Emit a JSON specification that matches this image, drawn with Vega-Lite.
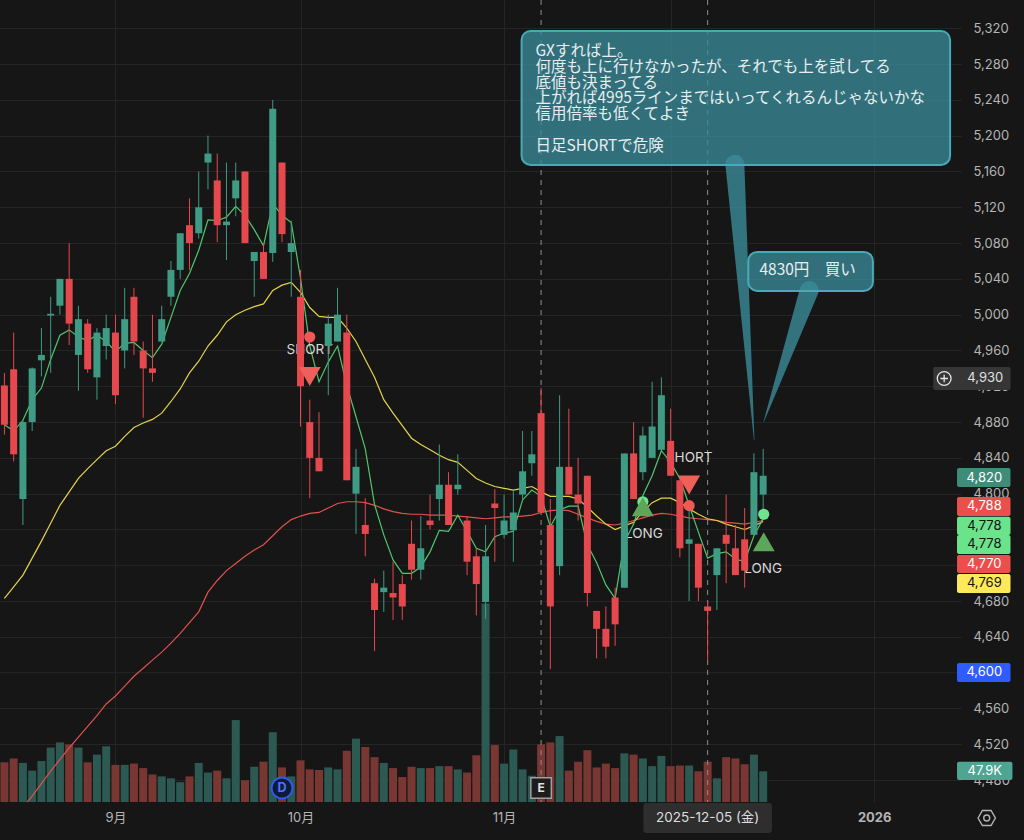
{
  "$schema": "https://vega.github.io/schema/vega-lite/v6.json",
  "width": 961,
  "height": 802,
  "autosize": {"type": "none"},
  "padding": {"left": 0, "top": 0, "right": 63, "bottom": 38},
  "background": "#161616",
  "config": {"view": {"stroke": null}},
  "datasets": {
    "k": [
      {"i":0,"o":4921,"h":4935,"l":4866,"c":4877,"v":62,"m5":4877,"m25":4683,"m75":4424},
      {"i":1,"o":4939,"h":4980,"l":4836,"c":4844,"v":68,"m5":4870,"m25":4696,"m75":4437},
      {"i":2,"o":4794,"h":4882,"l":4765,"c":4880,"v":61,"m5":4882,"m25":4709,"m75":4450},
      {"i":3,"o":4880,"h":4941,"l":4870,"c":4940,"v":49,"m5":4905,"m25":4728,"m75":4462},
      {"i":4,"o":4949,"h":4985,"l":4931,"c":4955,"v":64,"m5":4918,"m25":4747,"m75":4476},
      {"i":5,"o":4999,"h":5020,"l":4935,"c":5001,"v":85,"m5":4950,"m25":4767,"m75":4490},
      {"i":6,"o":5010,"h":5040,"l":5000,"c":5040,"v":93,"m5":4977,"m25":4787,"m75":4503},
      {"i":7,"o":5040,"h":5080,"l":4966,"c":4990,"v":90,"m5":4983,"m25":4802,"m75":4516},
      {"i":8,"o":4955,"h":5010,"l":4915,"c":4995,"v":85,"m5":4975,"m25":4817,"m75":4528},
      {"i":9,"o":4990,"h":4995,"l":4935,"c":4939,"v":62,"m5":4971,"m25":4828,"m75":4540},
      {"i":10,"o":4930,"h":4985,"l":4905,"c":4980,"v":74,"m5":4977,"m25":4838,"m75":4552},
      {"i":11,"o":4965,"h":5000,"l":4950,"c":4985,"v":87,"m5":4970,"m25":4848,"m75":4565},
      {"i":12,"o":4980,"h":5000,"l":4900,"c":4910,"v":58,"m5":4959,"m25":4853,"m75":4574},
      {"i":13,"o":4960,"h":5030,"l":4940,"c":4995,"v":58,"m5":4968,"m25":4864,"m75":4585},
      {"i":14,"o":5020,"h":5030,"l":4955,"c":4970,"v":60,"m5":4969,"m25":4874,"m75":4596},
      {"i":15,"o":4960,"h":4970,"l":4885,"c":4940,"v":53,"m5":4960,"m25":4879,"m75":4605},
      {"i":16,"o":4940,"h":5000,"l":4925,"c":4935,"v":43,"m5":4952,"m25":4883,"m75":4614},
      {"i":17,"o":4970,"h":5010,"l":4970,"c":4995,"v":40,"m5":4967,"m25":4890,"m75":4623},
      {"i":18,"o":5020,"h":5060,"l":5010,"c":5050,"v":37,"m5":4997,"m25":4903,"m75":4633},
      {"i":19,"o":5050,"h":5091,"l":5040,"c":5091,"v":31,"m5":5027,"m25":4917,"m75":4644},
      {"i":20,"o":5100,"h":5130,"l":5050,"c":5080,"v":40,"m5":5046,"m25":4935,"m75":4656},
      {"i":21,"o":5091,"h":5160,"l":5085,"c":5120,"v":61,"m5":5072,"m25":4948,"m75":4668},
      {"i":22,"o":5170,"h":5200,"l":5140,"c":5180,"v":46,"m5":5106,"m25":4965,"m75":4690},
      {"i":23,"o":5150,"h":5180,"l":5081,"c":5100,"v":49,"m5":5105,"m25":4977,"m75":4703},
      {"i":24,"o":5100,"h":5170,"l":5061,"c":5104,"v":37,"m5":5109,"m25":4992,"m75":4714},
      {"i":25,"o":5130,"h":5170,"l":5110,"c":5150,"v":128,"m5":5121,"m25":5000,"m75":4722},
      {"i":26,"o":5160,"h":5160,"l":5080,"c":5080,"v":34,"m5":5111,"m25":5005,"m75":4730},
      {"i":27,"o":5060,"h":5070,"l":5020,"c":5070,"v":55,"m5":5095,"m25":5009,"m75":4737},
      {"i":28,"o":5070,"h":5080,"l":5040,"c":5040,"v":63,"m5":5077,"m25":5012,"m75":4743},
      {"i":29,"o":5069,"h":5240,"l":5059,"c":5230,"v":109,"m5":5124,"m25":5027,"m75":4753},
      {"i":30,"o":5170,"h":5170,"l":5081,"c":5090,"v":54,"m5":5111,"m25":5033,"m75":4763},
      {"i":31,"o":5070,"h":5105,"l":5020,"c":5080,"v":40,"m5":5103,"m25":5036,"m75":4771},
      {"i":32,"o":5020,"h":5050,"l":4875,"c":4920,"v":65,"m5":5041,"m25":5025,"m75":4775},
      {"i":33,"o":4880,"h":4905,"l":4795,"c":4840,"v":51,"m5":4965,"m25":5008,"m75":4778},
      {"i":34,"o":4840,"h":4891,"l":4825,"c":4825,"v":50,"m5":4925,"m25":4998,"m75":4779},
      {"i":35,"o":4965,"h":5000,"l":4910,"c":4990,"v":54,"m5":4947,"m25":4997,"m75":4784},
      {"i":36,"o":4970,"h":5030,"l":4970,"c":5000,"v":51,"m5":4965,"m25":4997,"m75":4789},
      {"i":37,"o":4980,"h":5000,"l":4815,"c":4815,"v":80,"m5":4921,"m25":4985,"m75":4791},
      {"i":38,"o":4800,"h":4850,"l":4755,"c":4830,"v":99,"m5":4886,"m25":4970,"m75":4791},
      {"i":39,"o":4765,"h":4795,"l":4730,"c":4755,"v":86,"m5":4850,"m25":4950,"m75":4790},
      {"i":40,"o":4700,"h":4705,"l":4624,"c":4670,"v":70,"m5":4788,"m25":4930,"m75":4787},
      {"i":41,"o":4690,"h":4714,"l":4668,"c":4695,"v":61,"m5":4754,"m25":4905,"m75":4783},
      {"i":42,"o":4689,"h":4724,"l":4659,"c":4684,"v":53,"m5":4726,"m25":4890,"m75":4780},
      {"i":43,"o":4699,"h":4709,"l":4659,"c":4674,"v":39,"m5":4711,"m25":4876,"m75":4778},
      {"i":44,"o":4744,"h":4770,"l":4704,"c":4715,"v":55,"m5":4711,"m25":4862,"m75":4777},
      {"i":45,"o":4715,"h":4775,"l":4704,"c":4739,"v":53,"m5":4718,"m25":4855,"m75":4777},
      {"i":46,"o":4770,"h":4799,"l":4760,"c":4765,"v":53,"m5":4735,"m25":4849,"m75":4776},
      {"i":47,"o":4794,"h":4855,"l":4770,"c":4810,"v":56,"m5":4759,"m25":4843,"m75":4776},
      {"i":48,"o":4810,"h":4824,"l":4765,"c":4765,"v":56,"m5":4758,"m25":4838,"m75":4776},
      {"i":49,"o":4805,"h":4844,"l":4799,"c":4810,"v":51,"m5":4776,"m25":4835,"m75":4775},
      {"i":50,"o":4770,"h":4775,"l":4709,"c":4724,"v":46,"m5":4758,"m25":4826,"m75":4774},
      {"i":51,"o":4730,"h":4739,"l":4664,"c":4699,"v":73,"m5":4739,"m25":4817,"m75":4773},
      {"i":52,"o":4679,"h":4765,"l":4660,"c":4730,"v":310,"m5":4735,"m25":4812,"m75":4772},
      {"i":53,"o":4789,"h":4805,"l":4724,"c":4784,"v":89,"m5":4752,"m25":4808,"m75":4773},
      {"i":54,"o":4754,"h":4799,"l":4750,"c":4770,"v":60,"m5":4756,"m25":4806,"m75":4774},
      {"i":55,"o":4759,"h":4805,"l":4724,"c":4779,"v":82,"m5":4758,"m25":4804,"m75":4774},
      {"i":56,"o":4799,"h":4870,"l":4794,"c":4825,"v":51,"m5":4793,"m25":4806,"m75":4775},
      {"i":57,"o":4834,"h":4870,"l":4820,"c":4844,"v":41,"m5":4804,"m25":4808,"m75":4776},
      {"i":58,"o":4890,"h":4918,"l":4779,"c":4779,"v":90,"m5":4797,"m25":4802,"m75":4779},
      {"i":59,"o":4765,"h":4794,"l":4604,"c":4674,"v":93,"m5":4763,"m25":4797,"m75":4781},
      {"i":60,"o":4719,"h":4910,"l":4709,"c":4830,"v":103,"m5":4782,"m25":4797,"m75":4782},
      {"i":61,"o":4830,"h":4895,"l":4799,"c":4799,"v":49,"m5":4786,"m25":4797,"m75":4781},
      {"i":62,"o":4799,"h":4840,"l":4770,"c":4789,"v":63,"m5":4786,"m25":4794,"m75":4777},
      {"i":63,"o":4820,"h":4820,"l":4674,"c":4689,"v":81,"m5":4743,"m25":4785,"m75":4773},
      {"i":64,"o":4669,"h":4669,"l":4616,"c":4649,"v":54,"m5":4723,"m25":4775,"m75":4769},
      {"i":65,"o":4649,"h":4674,"l":4616,"c":4629,"v":60,"m5":4698,"m25":4766,"m75":4766},
      {"i":66,"o":4684,"h":4695,"l":4630,"c":4654,"v":53,"m5":4683,"m25":4760,"m75":4765},
      {"i":67,"o":4695,"h":4845,"l":4695,"c":4845,"v":76,"m5":4746,"m25":4764,"m75":4767},
      {"i":68,"o":4845,"h":4880,"l":4794,"c":4794,"v":74,"m5":4766,"m25":4768,"m75":4770},
      {"i":69,"o":4824,"h":4875,"l":4815,"c":4865,"v":68,"m5":4798,"m25":4780,"m75":4773},
      {"i":70,"o":4840,"h":4925,"l":4840,"c":4875,"v":56,"m5":4820,"m25":4790,"m75":4776},
      {"i":71,"o":4849,"h":4930,"l":4849,"c":4910,"v":72,"m5":4848,"m25":4795,"m75":4778},
      {"i":72,"o":4859,"h":4895,"l":4820,"c":4820,"v":56,"m5":4835,"m25":4795,"m75":4777},
      {"i":73,"o":4815,"h":4815,"l":4729,"c":4739,"v":57,"m5":4817,"m25":4790,"m75":4775},
      {"i":74,"o":4744,"h":4783,"l":4680,"c":4749,"v":57,"m5":4787,"m25":4783,"m75":4773},
      {"i":75,"o":4744,"h":4744,"l":4680,"c":4695,"v":48,"m5":4757,"m25":4777,"m75":4772},
      {"i":76,"o":4674,"h":4680,"l":4612,"c":4669,"v":63,"m5":4728,"m25":4772,"m75":4771},
      {"i":77,"o":4709,"h":4739,"l":4670,"c":4739,"v":37,"m5":4733,"m25":4770,"m75":4770},
      {"i":78,"o":4754,"h":4799,"l":4700,"c":4744,"v":70,"m5":4735,"m25":4766,"m75":4768},
      {"i":79,"o":4739,"h":4765,"l":4709,"c":4709,"v":68,"m5":4727,"m25":4763,"m75":4767},
      {"i":80,"o":4749,"h":4784,"l":4695,"c":4714,"v":59,"m5":4724,"m25":4760,"m75":4766},
      {"i":81,"o":4754,"h":4845,"l":4754,"c":4824,"v":74,"m5":4753,"m25":4764,"m75":4768},
      {"i":82,"o":4799,"h":4850,"l":4778,"c":4820,"v":47.9,"m5":4772,"m25":4769,"m75":4770}
    ],
    "sig": [
      {"i":33,"p":4975,"kind":"sdot"},
      {"i":33,"p":4931,"kind":"stri"},
      {"i":74,"p":4786.6,"kind":"sdot"},
      {"i":74,"p":4809.7,"kind":"stri"},
      {"i":69,"p":4791,"kind":"ldot"},
      {"i":69,"p":4785.5,"kind":"ltri"},
      {"i":82.06,"p":4777,"kind":"ldot"},
      {"i":82.06,"p":4746.4,"kind":"ltri"}
    ],
    "sigtxt": [
      {"i":33,"p":4960,"text":"SHORT"},
      {"i":74,"p":4840,"text":"SHORT"},
      {"i":69.1,"p":4755,"text":"LONG"},
      {"i":82,"p":4715.5,"text":"LONG"}
    ],
    "tags": [
      {"i":100.38,"i2":108.73,"p":4941.6,"p2":4915.9,"tx":106.0,"tp":4928.7,"label":"4,930","kind":"cross"},
      {"i":102.95,"i2":108.73,"p":4828.7,"p2":4807.5,"tx":105.9,"tp":4818,"label":"4,820","kind":"cur"},
      {"i":102.95,"i2":108.73,"p":4796.3,"p2":4775.1,"tx":105.9,"tp":4785.7,"label":"4,788","kind":"red"},
      {"i":102.95,"i2":108.73,"p":4774.3,"p2":4753.9,"tx":105.9,"tp":4764.1,"label":"4,778","kind":"green"},
      {"i":102.95,"i2":108.73,"p":4753.9,"p2":4732.7,"tx":105.9,"tp":4743.3,"label":"4,778","kind":"green"},
      {"i":102.95,"i2":108.73,"p":4731.5,"p2":4711.4,"tx":105.9,"tp":4721.5,"label":"4,770","kind":"red"},
      {"i":102.95,"i2":108.73,"p":4710.3,"p2":4689.1,"tx":105.9,"tp":4699.7,"label":"4,769","kind":"yellow"},
      {"i":102.95,"i2":108.73,"p":4610.8,"p2":4589.6,"tx":105.9,"tp":4600.2,"label":"4,600","kind":"blue"},
      {"i":102.95,"i2":108.94,"p":4500.6,"p2":4480.1,"tx":105.95,"tp":4490.3,"label":"47.9K","kind":"vol"}
    ],
    "boxes": [
      {"i":55.89,"i2":102.2,"p":5317,"p2":5167.3},
      {"i":80.39,"i2":93.86,"p":5070.1,"p2":5026.5}
    ],
    "tails": [
      {"tail":"a","i":78.94,"p":5168,"w":1},
      {"tail":"a","i":81.03,"p":4860,"w":0},
      {"tail":"b","i":86.97,"p":5027,"w":1},
      {"tail":"b","i":82.06,"p":4880.4,"w":0}
    ],
    "notes": [
      {"i":57.39,"p":5302.5,"t":"GXすれば上。\n何度も上に行けなかったが、それでも上を試してる\n底値も決まってる\n上がれば4995ラインまではいってくれるんじゃないかな\n信用倍率も低くてよき"},
      {"i":57.39,"p":5196.5,"t":"日足SHORTで危険"}
    ]
  },
  "resolve": {"scale": {"y": "independent", "color": "independent", "fill": "independent", "shape": "independent", "size": "independent"}, "axis": {"x": "independent"}},
  "layer": [
    {
      "data": {"name": "k"},
      "mark": {"type": "point", "opacity": 0},
      "encoding": {
        "x": {"field": "i", "type": "quantitative", "scale": {"domain": [0.064, 102.84], "nice": false, "zero": false},
          "axis": {"orient": "bottom", "values": [12, 32, 54, 72, 94],
            "labelExpr": "datum.value==12?'9月':datum.value==32?'10月':datum.value==54?'11月':datum.value==94?'2026':''",
            "grid": true, "gridColor": "#252525", "ticks": false, "domain": false, "labelColor": "#b4b4b4",
            "labelFontSize": 13, "labelFont": "Inter, Noto Sans CJK JP", "labelPadding": 9,
            "labelFontWeight": {"condition": {"test": "datum.value==94", "value": "bold"}, "value": "normal"},
            "title": null, "labelOverlap": false, "labelFlush": false}},
        "y": {"field": "c", "type": "quantitative", "scale": {"domain": [4455.5, 5351.6], "nice": false, "zero": false},
          "axis": {"orient": "right", "values": [4480,4520,4560,4640,4680,4800,4840,4880,4920,4960,5000,5040,5080,5120,5160,5200,5240,5280,5320],
            "format": ",d", "grid": true, "gridColor": "#252525", "ticks": false, "domain": false, "labelColor": "#b4b4b4",
            "labelFontSize": 13, "labelFont": "Inter", "labelPadding": 12, "labelAlign": "left", "title": null, "labelOverlap": false}}
      }
    },
    {
      "data": {"values": [{"p": 4600}, {"p": 4720}, {"p": 4760}]},
      "mark": {"type": "rule", "color": "#252525", "strokeWidth": 1},
      "encoding": {"y": {"field": "p", "type": "quantitative", "scale": {"domain": [4455.5, 5351.6], "nice": false, "zero": false}, "axis": null}}
    },
    {
      "data": {"name": "k"},
      "mark": {"type": "bar", "size": 8, "orient": "vertical"},
      "encoding": {
        "x": {"field": "i", "type": "quantitative", "scale": {"domain": [0.064, 102.84], "nice": false, "zero": false}, "axis": null},
        "y": {"field": "v", "type": "quantitative", "scale": {"domain": [0, 1253], "nice": false}, "axis": null},
        "color": {"condition": {"test": "datum.c >= datum.o", "value": "#2c5a53"}, "value": "#793733"}
      }
    },
    {
      "mark": {"type": "rule", "color": "#2962ff", "strokeWidth": 2},
      "encoding": {"y": {"datum": 4600, "type": "quantitative", "scale": {"domain": [4455.5, 5351.6], "nice": false, "zero": false}, "axis": null}}
    },
    {
      "mark": {"type": "rule", "color": "#8e8e8e", "strokeWidth": 1, "strokeDash": [5, 4]},
      "encoding": {"y": {"datum": 4930, "type": "quantitative", "scale": {"domain": [4455.5, 5351.6], "nice": false, "zero": false}, "axis": null}}
    },
    {
      "mark": {"type": "rule", "color": "#3f9a82", "strokeWidth": 1, "strokeDash": [1, 3]},
      "encoding": {"y": {"datum": 4820, "type": "quantitative", "scale": {"domain": [4455.5, 5351.6], "nice": false, "zero": false}, "axis": null}}
    },
    {
      "data": {"values": [{"i": 58}, {"i": 76}]},
      "mark": {"type": "rule", "color": "#8e8e8e", "strokeWidth": 1, "strokeDash": [5, 5]},
      "encoding": {"x": {"field": "i", "type": "quantitative", "scale": {"domain": [0.064, 102.84], "nice": false, "zero": false}, "axis": null}}
    },
    {
      "data": {"name": "k"},
      "mark": {"type": "line", "color": "#e0524c", "strokeWidth": 1.2, "clip": true},
      "encoding": {
        "x": {"field": "i", "type": "quantitative", "scale": {"domain": [0.064, 102.84], "nice": false, "zero": false}, "axis": null},
        "y": {"field": "m75", "type": "quantitative", "scale": {"domain": [4455.5, 5351.6], "nice": false, "zero": false}, "axis": null}
      }
    },
    {
      "data": {"name": "k"},
      "mark": {"type": "line", "color": "#e3d34a", "strokeWidth": 1.2, "clip": true},
      "encoding": {
        "x": {"field": "i", "type": "quantitative", "scale": {"domain": [0.064, 102.84], "nice": false, "zero": false}, "axis": null},
        "y": {"field": "m25", "type": "quantitative", "scale": {"domain": [4455.5, 5351.6], "nice": false, "zero": false}, "axis": null}
      }
    },
    {
      "data": {"name": "k"},
      "mark": {"type": "line", "color": "#52c66c", "strokeWidth": 1.2, "clip": true},
      "encoding": {
        "x": {"field": "i", "type": "quantitative", "scale": {"domain": [0.064, 102.84], "nice": false, "zero": false}, "axis": null},
        "y": {"field": "m5", "type": "quantitative", "scale": {"domain": [4455.5, 5351.6], "nice": false, "zero": false}, "axis": null}
      }
    },
    {
      "data": {"name": "sigtxt"},
      "mark": {"type": "text", "color": "#d8d8d8", "fontSize": 13.5, "font": "Inter", "align": "center", "baseline": "middle"},
      "encoding": {
        "x": {"field": "i", "type": "quantitative", "scale": {"domain": [0.064, 102.84], "nice": false, "zero": false}, "axis": null},
        "y": {"field": "p", "type": "quantitative", "scale": {"domain": [4455.5, 5351.6], "nice": false, "zero": false}, "axis": null},
        "text": {"field": "text"}
      }
    },
    {
      "data": {"name": "k"},
      "mark": {"type": "rule", "strokeWidth": 1, "clip": true},
      "encoding": {
        "x": {"field": "i", "type": "quantitative", "scale": {"domain": [0.064, 102.84], "nice": false, "zero": false}, "axis": null},
        "y": {"field": "l", "type": "quantitative", "scale": {"domain": [4455.5, 5351.6], "nice": false, "zero": false}, "axis": null},
        "y2": {"field": "h"},
        "color": {"condition": {"test": "datum.c >= datum.o", "value": "#3f9b84"}, "value": "#e5484d"}
      }
    },
    {
      "data": {"name": "k"},
      "mark": {"type": "bar", "size": 7, "orient": "vertical", "clip": true},
      "encoding": {
        "x": {"field": "i", "type": "quantitative", "scale": {"domain": [0.064, 102.84], "nice": false, "zero": false}, "axis": null},
        "y": {"field": "o", "type": "quantitative", "scale": {"domain": [4455.5, 5351.6], "nice": false, "zero": false}, "axis": null},
        "y2": {"field": "c"},
        "color": {"condition": {"test": "datum.c >= datum.o", "value": "#3f9b84"}, "value": "#e5484d"}
      }
    },
    {
      "data": {"name": "sig"},
      "mark": {"type": "point", "filled": true, "opacity": 1, "strokeWidth": 0},
      "encoding": {
        "x": {"field": "i", "type": "quantitative", "scale": {"domain": [0.064, 102.84], "nice": false, "zero": false}, "axis": null},
        "y": {"field": "p", "type": "quantitative", "scale": {"domain": [4455.5, 5351.6], "nice": false, "zero": false}, "axis": null},
        "shape": {"field": "kind", "type": "nominal", "scale": {"domain": ["sdot", "stri", "ldot", "ltri"], "range": ["circle", "triangle-down", "circle", "triangle-up"]}, "legend": null},
        "color": {"field": "kind", "type": "nominal", "scale": {"domain": ["sdot", "stri", "ldot", "ltri"], "range": ["#f05a55", "#f0605a", "#6fe38d", "#5ea65a"]}, "legend": null},
        "size": {"field": "kind", "type": "nominal", "scale": {"type": "ordinal", "domain": ["sdot", "stri", "ldot", "ltri"], "range": [125, 480, 125, 480]}, "legend": null}
      }
    },
    {
      "data": {"values": [{"i": 30, "p": 4471.2}]},
      "mark": {"type": "point", "shape": "circle", "size": 440, "fill": "#0f1a38", "stroke": "#2f5bea", "strokeWidth": 2, "opacity": 1, "fillOpacity": 1},
      "encoding": {
        "x": {"field": "i", "type": "quantitative", "scale": {"domain": [0.064, 102.84], "nice": false, "zero": false}, "axis": null},
        "y": {"field": "p", "type": "quantitative", "scale": {"domain": [4455.5, 5351.6], "nice": false, "zero": false}, "axis": null}
      }
    },
    {
      "data": {"values": [{"i": 30, "p": 4471.2, "t": "D"}]},
      "mark": {"type": "text", "color": "#4a76ff", "fontSize": 12.5, "fontWeight": "bold", "font": "Inter", "align": "center", "baseline": "middle"},
      "encoding": {
        "x": {"field": "i", "type": "quantitative", "scale": {"domain": [0.064, 102.84], "nice": false, "zero": false}, "axis": null},
        "y": {"field": "p", "type": "quantitative", "scale": {"domain": [4455.5, 5351.6], "nice": false, "zero": false}, "axis": null},
        "text": {"field": "t"}
      }
    },
    {
      "data": {"values": [{"i": 58, "p": 4471.2}]},
      "mark": {"type": "point", "shape": "square", "size": 420, "fill": "#1c1c1c", "stroke": "#a0a0a0", "strokeWidth": 1.5, "opacity": 1, "fillOpacity": 1},
      "encoding": {
        "x": {"field": "i", "type": "quantitative", "scale": {"domain": [0.064, 102.84], "nice": false, "zero": false}, "axis": null},
        "y": {"field": "p", "type": "quantitative", "scale": {"domain": [4455.5, 5351.6], "nice": false, "zero": false}, "axis": null}
      }
    },
    {
      "data": {"values": [{"i": 58, "p": 4471.2, "t": "E"}]},
      "mark": {"type": "text", "color": "#e0e0e0", "fontSize": 12, "fontWeight": "bold", "font": "Inter", "align": "center", "baseline": "middle"},
      "encoding": {
        "x": {"field": "i", "type": "quantitative", "scale": {"domain": [0.064, 102.84], "nice": false, "zero": false}, "axis": null},
        "y": {"field": "p", "type": "quantitative", "scale": {"domain": [4455.5, 5351.6], "nice": false, "zero": false}, "axis": null},
        "text": {"field": "t"}
      }
    },
    {
      "data": {"name": "tags"},
      "mark": {"type": "rect", "cornerRadius": 2},
      "encoding": {
        "x": {"field": "i", "type": "quantitative", "scale": {"domain": [0.064, 102.84], "nice": false, "zero": false}, "axis": null},
        "x2": {"field": "i2"},
        "y": {"field": "p", "type": "quantitative", "scale": {"domain": [4455.5, 5351.6], "nice": false, "zero": false}, "axis": null},
        "y2": {"field": "p2"},
        "fill": {"field": "kind", "type": "nominal", "scale": {"domain": ["cross", "cur", "red", "green", "yellow", "blue", "vol"], "range": ["#363636", "#3f8c79", "#ea4f4b", "#6be38b", "#fde95a", "#2e5cff", "#4da592"]}, "legend": null}
      }
    },
    {
      "data": {"name": "tags"},
      "mark": {"type": "text", "fontSize": 13, "font": "Inter", "align": "center", "baseline": "middle"},
      "encoding": {
        "x": {"field": "tx", "type": "quantitative", "scale": {"domain": [0.064, 102.84], "nice": false, "zero": false}, "axis": null},
        "y": {"field": "tp", "type": "quantitative", "scale": {"domain": [4455.5, 5351.6], "nice": false, "zero": false}, "axis": null},
        "text": {"field": "label"},
        "color": {"field": "kind", "type": "nominal", "scale": {"domain": ["cross", "cur", "red", "green", "yellow", "blue", "vol"], "range": ["#e0e0e0", "#ffffff", "#ffffff", "#111111", "#111111", "#ffffff", "#ffffff"]}, "legend": null}
      }
    },
    {
      "data": {"values": [{"i": 101.56, "p": 4928.7}]},
      "mark": {"type": "point", "shape": "circle", "size": 190, "filled": false, "stroke": "#e6e6e6", "strokeWidth": 1.3, "opacity": 1},
      "encoding": {
        "x": {"field": "i", "type": "quantitative", "scale": {"domain": [0.064, 102.84], "nice": false, "zero": false}, "axis": null},
        "y": {"field": "p", "type": "quantitative", "scale": {"domain": [4455.5, 5351.6], "nice": false, "zero": false}, "axis": null}
      }
    },
    {
      "data": {"values": [{"i": 101.56, "p": 4928.7}]},
      "mark": {"type": "point", "shape": "M-0.55,0L0.55,0M0,-0.55L0,0.55", "size": 190, "filled": false, "stroke": "#e6e6e6", "strokeWidth": 1.3, "opacity": 1},
      "encoding": {
        "x": {"field": "i", "type": "quantitative", "scale": {"domain": [0.064, 102.84], "nice": false, "zero": false}, "axis": null},
        "y": {"field": "p", "type": "quantitative", "scale": {"domain": [4455.5, 5351.6], "nice": false, "zero": false}, "axis": null}
      }
    },
    {
      "data": {"values": [{"i": 69.05, "i2": 82.95, "p": 4454.4, "p2": 4420.9}]},
      "mark": {"type": "rect", "fill": "#2e2e2e", "cornerRadius": 3},
      "encoding": {
        "x": {"field": "i", "type": "quantitative", "scale": {"domain": [0.064, 102.84], "nice": false, "zero": false}, "axis": null},
        "x2": {"field": "i2"},
        "y": {"field": "p", "type": "quantitative", "scale": {"domain": [4455.5, 5351.6], "nice": false, "zero": false}, "axis": null},
        "y2": {"field": "p2"}
      }
    },
    {
      "data": {"values": [{"i": 76, "p": 4437.6, "t": "2025-12-05 (金)"}]},
      "mark": {"type": "text", "color": "#dedede", "fontSize": 13.5, "font": "Inter, Noto Sans CJK JP", "align": "center", "baseline": "middle"},
      "encoding": {
        "x": {"field": "i", "type": "quantitative", "scale": {"domain": [0.064, 102.84], "nice": false, "zero": false}, "axis": null},
        "y": {"field": "p", "type": "quantitative", "scale": {"domain": [4455.5, 5351.6], "nice": false, "zero": false}, "axis": null},
        "text": {"field": "t"}
      }
    },
    {
      "data": {"values": [{"i": 106.16, "p": 4437.6}]},
      "mark": {"type": "point", "shape": "M-1,0L-0.5,-0.87L0.5,-0.87L1,0L0.5,0.87L-0.5,0.87Z", "size": 300, "filled": false, "stroke": "#b4b4b4", "strokeWidth": 1.4, "opacity": 1},
      "encoding": {
        "x": {"field": "i", "type": "quantitative", "scale": {"domain": [0.064, 102.84], "nice": false, "zero": false}, "axis": null},
        "y": {"field": "p", "type": "quantitative", "scale": {"domain": [4455.5, 5351.6], "nice": false, "zero": false}, "axis": null}
      }
    },
    {
      "data": {"values": [{"i": 106.16, "p": 4437.6}]},
      "mark": {"type": "point", "shape": "circle", "size": 36, "filled": false, "stroke": "#b4b4b4", "strokeWidth": 1.4, "opacity": 1},
      "encoding": {
        "x": {"field": "i", "type": "quantitative", "scale": {"domain": [0.064, 102.84], "nice": false, "zero": false}, "axis": null},
        "y": {"field": "p", "type": "quantitative", "scale": {"domain": [4455.5, 5351.6], "nice": false, "zero": false}, "axis": null}
      }
    },
    {
      "data": {"name": "tails"},
      "mark": {"type": "trail", "color": "#3a8b99", "opacity": 0.8},
      "encoding": {
        "x": {"field": "i", "type": "quantitative", "scale": {"domain": [0.064, 102.84], "nice": false, "zero": false}, "axis": null},
        "y": {"field": "p", "type": "quantitative", "scale": {"domain": [4455.5, 5351.6], "nice": false, "zero": false}, "axis": null},
        "size": {"field": "w", "type": "quantitative", "scale": {"domain": [0, 1], "range": [0.5, 19]}, "legend": null},
        "detail": {"field": "tail"},
        "order": {"field": "w", "sort": "descending"}
      }
    },
    {
      "data": {"name": "boxes"},
      "mark": {"type": "rect", "fill": "#3a8b99", "fillOpacity": 0.78, "stroke": "#4aa8b8", "strokeWidth": 2, "cornerRadius": 9},
      "encoding": {
        "x": {"field": "i", "type": "quantitative", "scale": {"domain": [0.064, 102.84], "nice": false, "zero": false}, "axis": null},
        "x2": {"field": "i2"},
        "y": {"field": "p", "type": "quantitative", "scale": {"domain": [4455.5, 5351.6], "nice": false, "zero": false}, "axis": null},
        "y2": {"field": "p2"}
      }
    },
    {
      "data": {"name": "notes"},
      "mark": {"type": "text", "color": "#e8eef0", "fontSize": 15.5, "lineHeight": 15.8, "lineBreak": "\n", "font": "Noto Sans CJK JP", "align": "left", "baseline": "top"},
      "encoding": {
        "x": {"field": "i", "type": "quantitative", "scale": {"domain": [0.064, 102.84], "nice": false, "zero": false}, "axis": null},
        "y": {"field": "p", "type": "quantitative", "scale": {"domain": [4455.5, 5351.6], "nice": false, "zero": false}, "axis": null},
        "text": {"field": "t"}
      }
    },
    {
      "data": {"values": [{"i": 81.6, "p": 5049.8, "t": "4830円　買い"}]},
      "mark": {"type": "text", "color": "#e8eef0", "fontSize": 15.5, "font": "Noto Sans CJK JP", "align": "left", "baseline": "middle"},
      "encoding": {
        "x": {"field": "i", "type": "quantitative", "scale": {"domain": [0.064, 102.84], "nice": false, "zero": false}, "axis": null},
        "y": {"field": "p", "type": "quantitative", "scale": {"domain": [4455.5, 5351.6], "nice": false, "zero": false}, "axis": null},
        "text": {"field": "t"}
      }
    }
  ]
}
